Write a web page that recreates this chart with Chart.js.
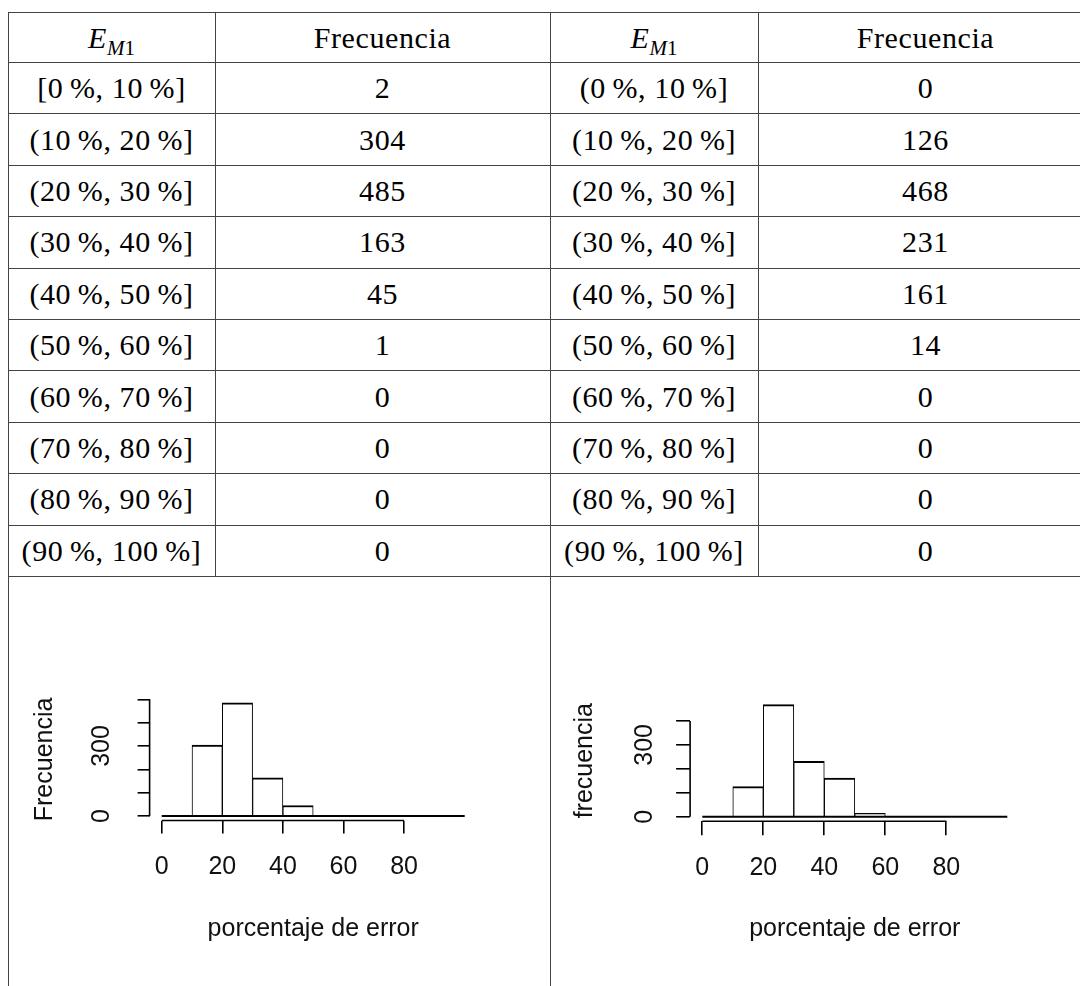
<!DOCTYPE html>
<html>
<head>
<meta charset="utf-8">
<script src="https://cdn.jsdelivr.net/npm/chart.js@4.4.1/dist/chart.umd.min.js"></script>
<style>
  html, body { margin: 0; padding: 0; background: #fff; }
  body { width: 1080px; height: 986px; overflow: hidden; position: relative; }
  table {
    position: absolute; left: 7.5px; top: 12px;
    border-collapse: collapse; table-layout: fixed; width: 1085px;
    font-family: "Liberation Serif", serif; font-size: 30px; color: #000;
  }
  td, th { border: 1px solid #444; text-align: center; padding: 0; font-weight: normal; letter-spacing: 0.6px; white-space: nowrap; }
  thead th { height: 49px; }
  tbody td { height: 50.4px; }
  .sub { font-size: 21px; position: relative; top: 7px; letter-spacing: 0; }
  tr.plots td { height: 430px; border-bottom: none; }
  canvas { position: absolute; }
</style>
</head>
<body>
<table id="tbl">
  <colgroup><col style="width:207px"><col style="width:335px"><col style="width:208px"><col style="width:335px"></colgroup>
  <thead>
    <tr>
      <th><i>E</i><span class="sub"><i>M</i>1</span></th><th>Frecuencia</th>
      <th><i>E</i><span class="sub"><i>M</i>1</span></th><th>Frecuencia</th>
    </tr>
  </thead>
  <tbody id="rows"></tbody>
</table>
<canvas id="histA" width="540" height="326" style="left:0;top:660px"></canvas>
<canvas id="histB" width="540" height="326" style="left:540px;top:660px"></canvas>
<script>
// interval labels of the two tables
const intervalsA = ["[0\u2009%, 10\u2009%]", "(10\u2009%, 20\u2009%]", "(20\u2009%, 30\u2009%]", "(30\u2009%, 40\u2009%]", "(40\u2009%, 50\u2009%]",
  "(50\u2009%, 60\u2009%]", "(60\u2009%, 70\u2009%]", "(70\u2009%, 80\u2009%]", "(80\u2009%, 90\u2009%]", "(90\u2009%, 100\u2009%]"];
const intervalsB = ["(0\u2009%, 10\u2009%]", "(10\u2009%, 20\u2009%]", "(20\u2009%, 30\u2009%]", "(30\u2009%, 40\u2009%]", "(40\u2009%, 50\u2009%]",
  "(50\u2009%, 60\u2009%]", "(60\u2009%, 70\u2009%]", "(70\u2009%, 80\u2009%]", "(80\u2009%, 90\u2009%]", "(90\u2009%, 100\u2009%]"];

// frequencies
const freqA = [2, 304, 485, 163, 45, 1, 0, 0, 0, 0];
const freqB = [0, 126, 468, 231, 161, 14, 0, 0, 0, 0];

// histogram breaks and axis ticks
const binEdges = [0, 10, 20, 30, 40, 50, 60, 70, 80, 90, 100];
const xTicks = [0, 20, 40, 60, 80];
const yTicksA = [0, 100, 200, 300, 400, 500];
const yTicksB = [0, 100, 200, 300, 400];
const yLabelsShown = [0, 300];

// fill the table
let rowsHtml = "";
for (let i = 0; i < intervalsA.length; i++) {
  rowsHtml += "<tr><td>" + intervalsA[i] + "</td><td>" + freqA[i] + "</td><td>" + intervalsB[i] + "</td><td>" + freqB[i] + "</td></tr>";
}
rowsHtml += '<tr class="plots"><td colspan="2"></td><td colspan="2"></td></tr>';
document.getElementById("rows").innerHTML = rowsHtml;

// R style axis lines: only from first to last tick
const axisLines = {
  id: "axisLines",
  afterDraw(chart) {
    const { ctx, chartArea, scales } = chart;
    const xt = scales.x.ticks, yt = scales.y.ticks;
    ctx.save();
    ctx.strokeStyle = "#000";
    ctx.lineWidth = 1.6;
    ctx.beginPath();
    ctx.moveTo(scales.x.getPixelForValue(xt[0].value), chartArea.bottom);
    ctx.lineTo(scales.x.getPixelForValue(xt[xt.length - 1].value), chartArea.bottom);
    ctx.moveTo(chartArea.left, scales.y.getPixelForValue(yt[0].value));
    ctx.lineTo(chartArea.left, scales.y.getPixelForValue(yt[yt.length - 1].value));
    ctx.stroke();
    ctx.restore();
  }
};

const sansFont = { family: "'Liberation Sans', Arial, sans-serif", size: 25 };

function histogram(id, freq, yTicks, yTitle, g) {
  const maxF = Math.max(...freq);
  const lo = binEdges[0], hi = binEdges[binEdges.length - 1];
  const span = hi - lo;
  new Chart(document.getElementById(id), {
    type: "bar",
    data: {
      datasets: [
        {
          type: "bar",
          data: freq.map((f, i) => ({ x: (binEdges[i] + binEdges[i + 1]) / 2, y: f })),
          backgroundColor: "#fff",
          borderColor: "#000",
          borderWidth: { top: 2, left: 1, right: 1, bottom: 0 },
          borderSkipped: "start",
          barPercentage: 1,
          categoryPercentage: 1,
          order: 2,
        },
        {
          type: "line",
          data: [{ x: lo, y: 0 }, { x: hi, y: 0 }],
          borderColor: "#000",
          borderWidth: 2,
          pointRadius: 0,
          order: 1,
        },
      ],
    },
    options: {
      responsive: false,
      animation: false,
      layout: { padding: g.padding },
      plugins: { legend: { display: false }, tooltip: { enabled: false } },
      scales: {
        x: {
          type: "linear",
          offset: false,
          min: lo - 0.04 * span,
          max: hi + 0.04 * span,
          afterBuildTicks: (s) => { s.ticks = xTicks.map((v) => ({ value: v })); },
          afterFit: (s) => { s.height = g.xH; },
          grid: { display: true, offset: false, drawOnChartArea: false, drawTicks: true, tickLength: g.xTickLen, color: "#000", lineWidth: 1.6 },
          border: { display: false },
          ticks: { font: sansFont, color: "#111", padding: g.xTickPad, maxRotation: 0, autoSkip: false },
          title: { display: true, text: "porcentaje de error", font: sansFont, color: "#111", padding: 0 },
        },
        y: {
          type: "linear",
          min: -0.04 * maxF,
          max: 1.04 * maxF,
          afterBuildTicks: (s) => { s.ticks = yTicks.map((v) => ({ value: v })); },
          afterFit: (s) => { s.width = g.yW; },
          grid: { display: true, drawOnChartArea: false, drawTicks: true, tickLength: g.yTickLen, color: "#000", lineWidth: 1.6 },
          border: { display: false },
          ticks: {
            font: sansFont, color: "#111", padding: g.yTickPad, minRotation: 90, maxRotation: 90, crossAlign: "center", autoSkip: false,
            callback: (v) => (yLabelsShown.includes(v) ? String(v) : ""),
          },
          title: { display: true, text: yTitle, font: sansFont, color: "#111", padding: 0 },
        },
      },
    },
    plugins: [axisLines],
  });
}

histogram("histA", freqA, yTicksA, "Frecuencia", {
  padding: { left: 30, top: 38.3, right: 63.2, bottom: 42 },
  yW: 119.6, xH: 123.5, yTickLen: 12, yTickPad: 14.2, xTickLen: 13, xTickPad: 18.5,
});
histogram("histB", freqB, yTicksB, "frecuencia", {
  padding: { left: 30, top: 40.2, right: 60.5, bottom: 42 },
  yW: 120.1, xH: 122.8, yTickLen: 14, yTickPad: 10.2, xTickLen: 14, xTickPad: 17.8,
});
</script>
</body>
</html>
